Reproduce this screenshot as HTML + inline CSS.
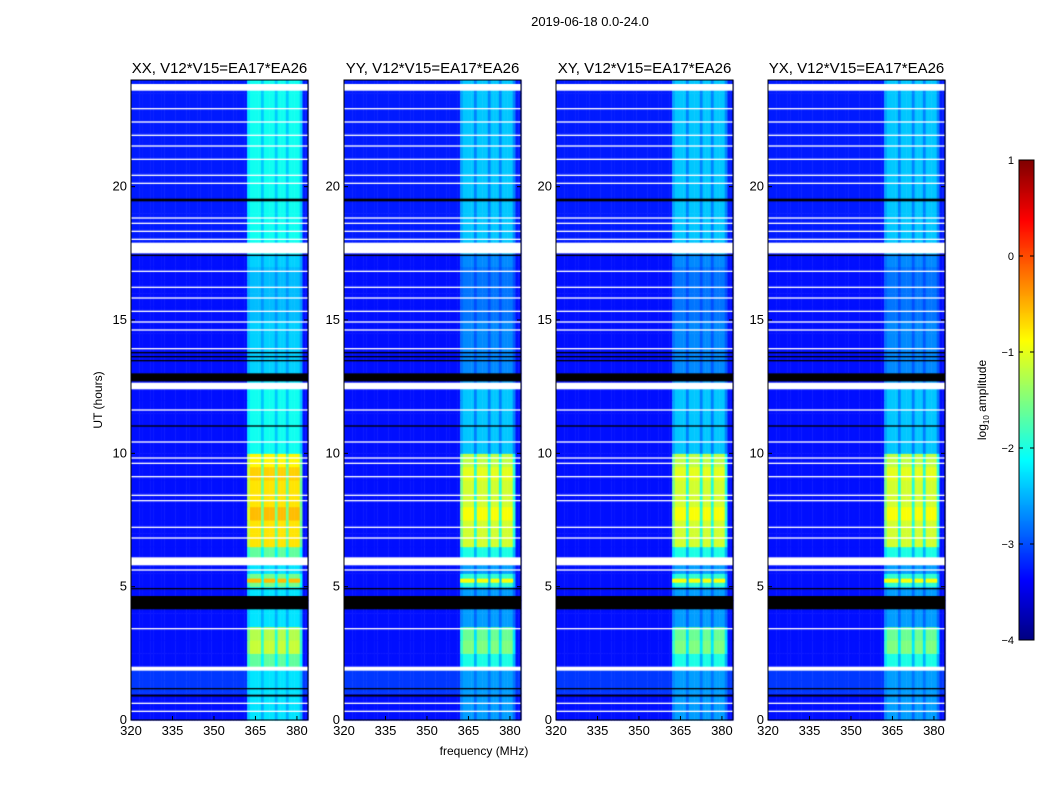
<!DOCTYPE html>
<html><head><meta charset="utf-8"><style>
body{margin:0;background:#fff;width:1050px;height:800px;overflow:hidden;font-family:"Liberation Sans",sans-serif;}
</style></head><body>
<svg id="fig" width="1050" height="800" xmlns="http://www.w3.org/2000/svg" style="position:absolute;left:0;top:0;font-family:'Liberation Sans',sans-serif">
<text x="590" y="26" font-size="13" text-anchor="middle">2019-06-18 0.0-24.0</text>
<text x="484" y="755" font-size="12" text-anchor="middle">frequency (MHz)</text>
<text transform="translate(102,400) rotate(-90)" font-size="12" text-anchor="middle">UT (hours)</text>
<text transform="translate(986,400) rotate(-90)" font-size="12" text-anchor="middle">log<tspan font-size="8" dy="3">10</tspan><tspan dy="-3"> amplitude</tspan></text>
</svg>
<canvas id="cv" width="1050" height="800" style="position:absolute;left:0;top:0"></canvas>
<svg id="ov" width="1050" height="800" xmlns="http://www.w3.org/2000/svg" style="position:absolute;left:0;top:0;font-family:'Liberation Sans',sans-serif"></svg>
<script>
const panelTitles=["XX, V12*V15=EA17*EA26","YY, V12*V15=EA17*EA26","XY, V12*V15=EA17*EA26","YX, V12*V15=EA17*EA26"];
const panelGain=[0.35,0,0,0];
const xTicks=[320,335,350,365,380];
const yTicks=[0,5,10,15,20];
const cbTicks=[1,0,-1,-2,-3,-4];
const cbLabels=["1","0","\u22121","\u22122","\u22123","\u22124"];
const bgLevel=[-3.3,-3.3,-3.1,-3.1,-3.3,-3.3,-3.3,-3.3,-3.3,-3.3,-3.3,-3.3,-3.3,-3.3,-3.3,-3.3,-3.3,-3.3,-3.3,-3.3,-3.3,-3.3,-3.3,-3.3,-3.3,-3.3,-3.3,-3.3,-3.3,-3.3,-3.3,-3.3,-3.3,-3.3,-3.3,-3.25,-3.25,-3.25,-3.25,-3.25,-3.25,-3.25,-3.25,-3.25,-3.25,-3.25,-3.25,-3.25];
const bandLevel=[-2.6,-2.6,-2.6,-2.6,-2.0,-1.5,-1.6,-2.6,-2.6,-2.6,-1.9,-2.6,-2.0,-1.1,-1.1,-0.9,-1.1,-1.1,-1.0,-1.2,-2.4,-2.4,-2.4,-2.4,-2.4,-2.6,-2.7,-2.7,-2.7,-2.7,-2.8,-2.8,-2.8,-2.8,-2.7,-2.4,-2.4,-2.4,-2.4,-2.4,-2.4,-2.4,-2.4,-2.4,-2.4,-2.4,-2.4,-2.4];
const chanWeight=[0,0,0,0,0,0,0,0,0,0,0,0,0,0,0,0,0,0,0,0,0,0,0,0,0,0,0,0,0,0,0,0,0,0,0,0,0,0,0,0,0,0,0.8,1,1,1,1,0.6,1,1,1,1,0.6,1,1,1,0.6,1,1,1,1,0.6,0,0];
const whiteStart=[23.6,17.5,12.4,5.8,1.85,3.4,0.3,0.6,5.6,6.8,7.2,8.2,8.4,9.1,9.6,9.8,10.4,11.6,13.9,14.6,14.9,15.3,15.8,16.2,16.8,18.0,18.3,18.6,18.8,20.1,20.4,21.0,21.5,21.9,22.4,22.9];
const whiteEnd=[23.85,17.9,12.65,6.1,2.0,3.45,0.35,0.65,5.65,6.85,7.25,8.25,8.45,9.15,9.65,9.85,10.45,11.65,13.95,14.65,14.95,15.35,15.85,16.25,16.85,18.05,18.35,18.65,18.85,20.15,20.45,21.05,21.55,21.95,22.45,22.95];
const blackStart=[4.15,12.7,0.88,1.15,11.0,13.45,13.6,13.75,19.45,17.4,4.9];
const blackEnd=[4.65,13.0,0.95,1.2,11.05,13.5,13.65,13.8,19.55,17.45,4.95];
const stripeStart=[5.15];
const stripeEnd=[5.3];
const stripeLevel=[-0.9];
const panelX=[131,344,556,768];
const pw=177,topY=80,botY=720,fmin=320,fmax=384,tmax=24;
function jet(v){let t=(v+4)/5;t=Math.max(0,Math.min(1,t));const c=x=>Math.round(255*Math.max(0,Math.min(1,1.5-Math.abs(4*t-x))));return `rgb(${c(3)},${c(2)},${c(1)})`;}
const cv=document.getElementById('cv'),ctx=cv.getContext('2d');
const ov=document.getElementById('ov');const NS="http://www.w3.org/2000/svg";
function mk(tag,attrs,txt){const e=document.createElementNS(NS,tag);for(const k in attrs)e.setAttribute(k,attrs[k]);if(txt!==undefined)e.textContent=txt;ov.appendChild(e);return e;}
panelX.forEach((px,p)=>{
 const xs=f=>px+(f-fmin)/(fmax-fmin)*pw;
 const ys=t=>botY-t/tmax*(botY-topY);
 for(let i=0;i<bgLevel.length;i++){
  for(let c=0;c<chanWeight.length;c++){
   const w=chanWeight[c];
   let v=bgLevel[i]+w*(bandLevel[i]-bgLevel[i]);
   if(w>0)v+=panelGain[p];
   ctx.fillStyle=jet(v);
   const x0=xs(fmin+c),x1=xs(fmin+c+1),y0=ys(i*0.5+0.5),y1=ys(i*0.5);
   ctx.fillRect(x0,y0,x1-x0+0.5,y1-y0+0.5);
  }
 }
 for(let k=0;k<stripeStart.length;k++){
  for(let c=0;c<chanWeight.length;c++){
   const w=chanWeight[c];if(w<=0.7)continue;
   ctx.fillStyle=jet(stripeLevel[k]+panelGain[p]);
   const x0=xs(fmin+c),x1=xs(fmin+c+1),y0=ys(stripeEnd[k]),y1=ys(stripeStart[k]);
   ctx.fillRect(x0,y0,x1-x0+0.5,y1-y0);
  }
 }
 ctx.fillStyle="#000";
 for(let k=0;k<blackStart.length;k++){const y0=ys(blackEnd[k]),y1=ys(blackStart[k]);ctx.fillRect(px,y0,pw,Math.max(1,y1-y0));}
 ctx.fillStyle="#fff";
 for(let k=0;k<whiteStart.length;k++){const y0=ys(whiteEnd[k]),y1=ys(whiteStart[k]);ctx.fillRect(px,y0,pw,Math.max(1.2,y1-y0));}
 const fr=mk('rect',{x:px,y:topY,width:pw,height:botY-topY,fill:'none',stroke:'#000','stroke-width':1});
 
 
 const tt=mk('text',{x:px+pw/2,y:topY-7,'font-size':15,'text-anchor':'middle'},panelTitles[p]);
 
 
 xTicks.forEach(f=>{const x=xs(f);mk('line',{x1:x,x2:x,y1:botY,y2:botY-4,stroke:'#000'});
  const l=mk('text',{x:x,y:botY+15,'font-size':13,'text-anchor':'middle'},String(f));
  
  });
 yTicks.forEach(t=>{const y=ys(t);mk('line',{x1:px,x2:px+4,y1:y,y2:y,stroke:'#000'});mk('line',{x1:px+pw,x2:px+pw-4,y1:y,y2:y,stroke:'#000'});
  const l=mk('text',{x:px-4,y:y+4,'font-size':13,'text-anchor':'end'},String(t));
  
  });
});
const cbx=1019,cbw=15,cbt=160,cbb=640;
for(let y=cbt;y<cbb;y++){const v=1-(y-cbt)/(cbb-cbt)*5;ctx.fillStyle=jet(v);ctx.fillRect(cbx,y,cbw,1);}
const cbf=mk('rect',{x:cbx,y:cbt,width:cbw,height:cbb-cbt,fill:'none',stroke:'#000'});


cbTicks.forEach((v,i)=>{const y=cbt+(1-v)/5*(cbb-cbt);mk('line',{x1:cbx,x2:cbx+4,y1:y,y2:y,stroke:'#000'});mk('line',{x1:cbx+cbw,x2:cbx+cbw-4,y1:y,y2:y,stroke:'#000'});
 const l=mk('text',{x:cbx-5,y:y+4,'font-size':11,'text-anchor':'end'},cbLabels[i]);
 
 });
</script>
</body></html>
